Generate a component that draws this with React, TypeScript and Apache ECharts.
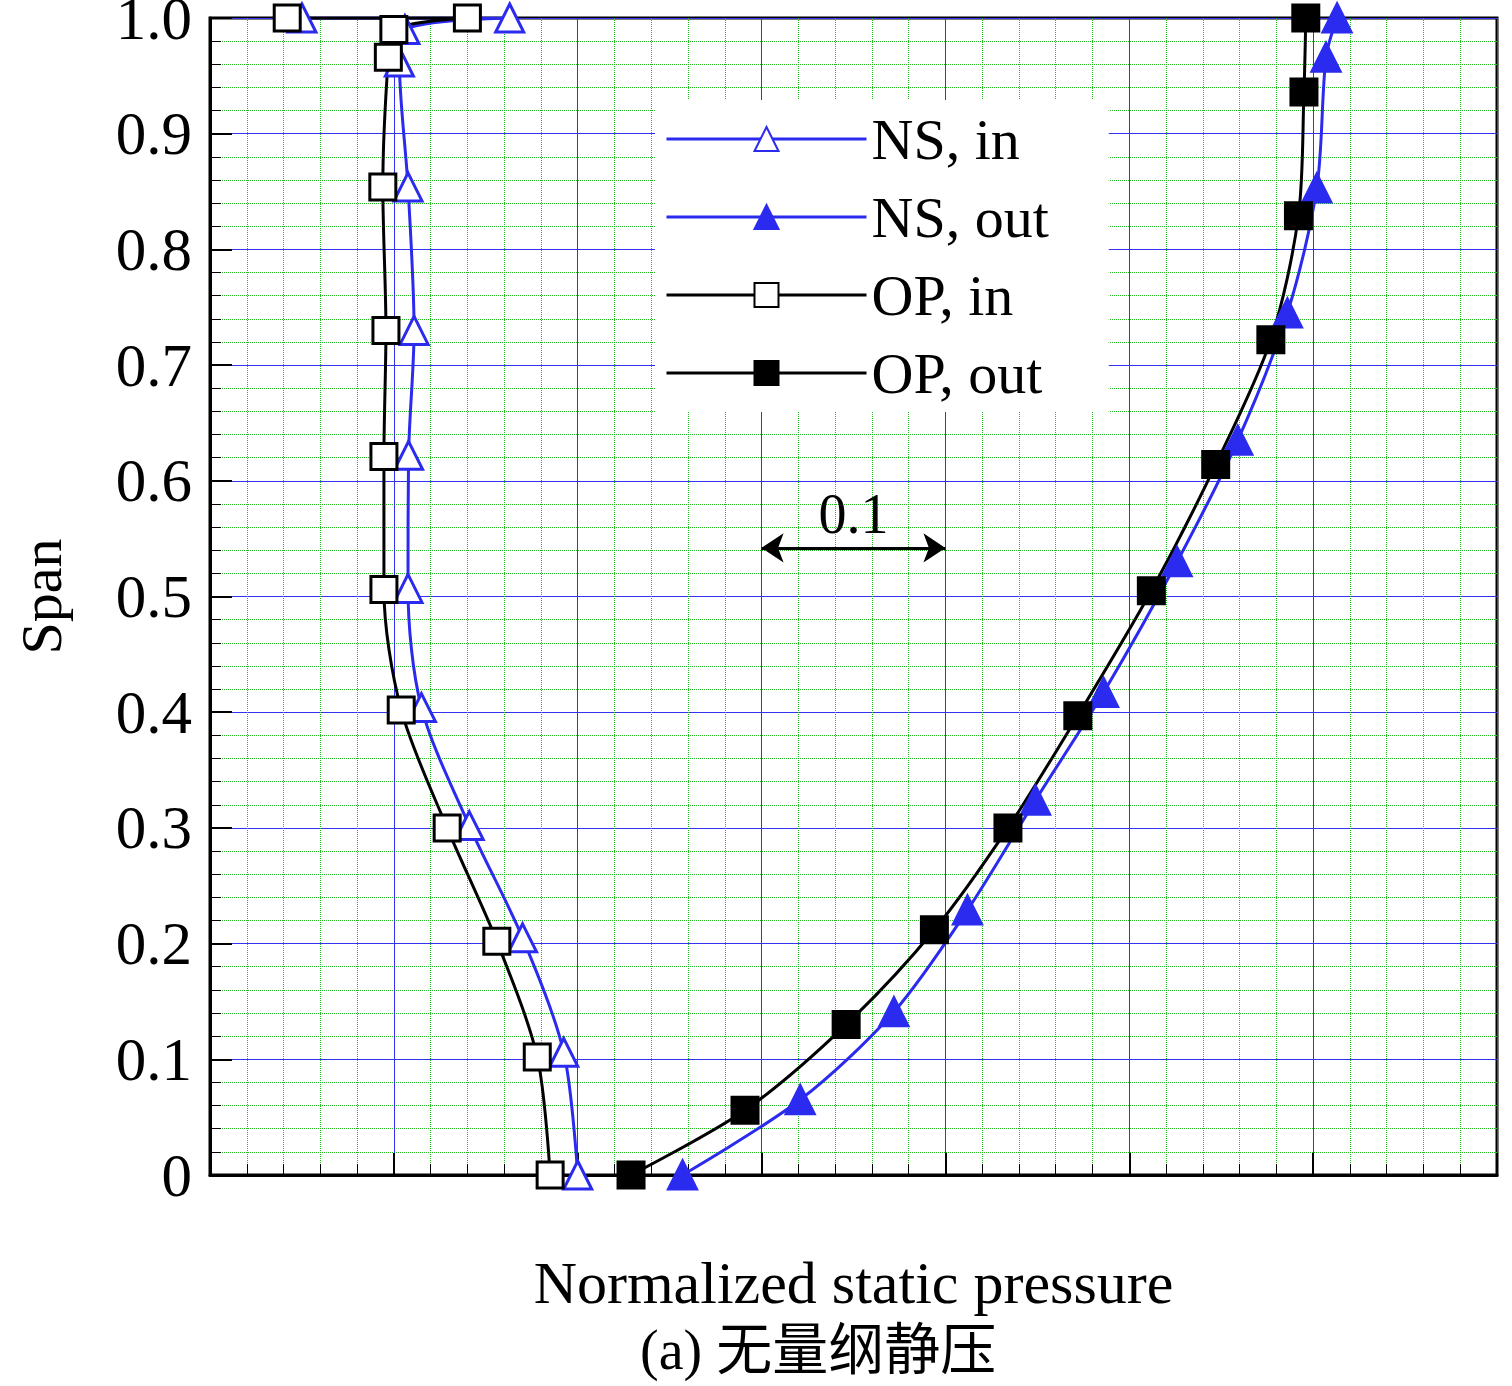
import React, { useRef, useEffect } from 'react';
import * as echarts from 'echarts';

// [normalized static pressure, span]
const nsIn = [
  [0.05, 1.0], [0.163, 1.0], [0.106, 0.99], [0.103, 0.962], [0.1077, 0.854], [0.111, 0.73],
  [0.108, 0.622], [0.1077, 0.507], [0.115, 0.404], [0.141, 0.302], [0.17, 0.205],
  [0.1924, 0.106], [0.2, 0.0],
];
const nsOut = [
  [0.257, 0.0], [0.321, 0.065], [0.372, 0.141], [0.412, 0.229], [0.449, 0.324],
  [0.486, 0.417], [0.526, 0.53], [0.559, 0.635], [0.586, 0.745], [0.602, 0.853],
  [0.607, 0.966], [0.613, 1.0],
];
const opIn = [
  [0.042, 1.0], [0.14, 1.0], [0.1, 0.99], [0.097, 0.966], [0.094, 0.854], [0.0957, 0.73],
  [0.0946, 0.621], [0.0946, 0.506], [0.104, 0.402], [0.129, 0.3], [0.156, 0.202],
  [0.178, 0.102], [0.185, 0.0],
];
const opOut = [
  [0.229, 0.0], [0.291, 0.056], [0.346, 0.13], [0.394, 0.212], [0.434, 0.3],
  [0.472, 0.397], [0.512, 0.505], [0.547, 0.614], [0.577, 0.722], [0.592, 0.829],
  [0.595, 0.936], [0.596, 1.0],
];
const scaleBar = [[0.3, 0.542], [0.4, 0.542]];

const FONT = 'Liberation Serif, Noto Sans CJK SC, serif';
const BLUE = '#2b2bf0';

const App = () => {
  const ref = useRef<HTMLDivElement>(null);
  useEffect(() => {
    const chart = echarts.init(ref.current, null, { renderer: 'svg' });
    const mk = (name: string, data: number[][], color: string, symbol: string, fill: string) => ({
      name,
      type: 'line',
      data,
      smooth: 0.3,
      symbol,
      symbolSize: symbol === 'rect' ? 26 : 28,
      lineStyle: { color, width: 3 },
      itemStyle: { color: fill, borderColor: color, borderWidth: 3 },
    });
    chart.setOption({
      animation: false,
      grid: {
        left: 210, right: 15, top: 18, bottom: 211, outerBoundsMode: 'none', containLabel: false,
        show: true, borderColor: '#000', borderWidth: 3,
      },
      legend: {
        orient: 'vertical',
        left: 655,
        top: 100,
        backgroundColor: '#fff',
        padding: [10, 60, 10, 10],
        itemWidth: 200,
        itemHeight: 30,
        itemGap: 20,
        lineStyle: { width: 3 },
        textStyle: { fontFamily: FONT, fontSize: 58, color: '#000' },
        data: ['NS, in', 'NS, out', 'OP, in', 'OP, out'],
      },
      xAxis: {
        type: 'value', min: 0, max: 0.7, interval: 0.1,
        name: 'Normalized static pressure', nameLocation: 'middle', nameGap: 78,
        nameTextStyle: { fontFamily: FONT, fontSize: 60, color: '#000' },
        axisLabel: { show: false },
        axisLine: { lineStyle: { color: '#000', width: 3 } },
        axisTick: { inside: true, length: 22, lineStyle: { color: '#000', width: 2 } },
        minorTick: { show: true, splitNumber: 5, length: 11, lineStyle: { color: '#000' } },
        splitLine: { lineStyle: { color: '#3333ee', width: 1 } },
        minorSplitLine: { show: true, lineStyle: { color: '#22bb22', type: 'dotted', width: 1 } },
      },
      yAxis: {
        type: 'value', min: 0, max: 1, interval: 0.1,
        name: 'Span', nameLocation: 'middle', nameGap: 140,
        nameTextStyle: { fontFamily: FONT, fontSize: 58, color: '#000' },
        axisLabel: {
          fontFamily: FONT, fontSize: 61, color: '#000', margin: 18,
          formatter: (v: number) => (v === 0 ? '0' : v.toFixed(1)),
        },
        axisLine: { lineStyle: { color: '#000', width: 3 } },
        axisTick: { inside: true, length: 22, lineStyle: { color: '#000', width: 2 } },
        minorTick: { show: true, splitNumber: 5, length: 11, lineStyle: { color: '#000' } },
        splitLine: { lineStyle: { color: '#3333ee', width: 1 } },
        minorSplitLine: { show: true, lineStyle: { color: '#22bb22', type: 'dotted', width: 1 } },
      },
      graphic: [
        {
          type: 'text', left: 640, top: 1322,
          style: { text: '(a) 无量纲静压', font: `56px ${FONT}`, fill: '#000' },
        },
      ],
      series: [
        mk('NS, in', nsIn, BLUE, 'triangle', '#fff'),
        mk('NS, out', nsOut, BLUE, 'triangle', BLUE),
        mk('OP, in', opIn, '#000', 'rect', '#fff'),
        mk('OP, out', opOut, '#000', 'rect', '#000'),
        {
          type: 'line', data: scaleBar, symbol: 'none', lineStyle: { width: 0 },
          silent: true, legendHoverLink: false,
          markLine: {
            symbol: ['arrow', 'arrow'], symbolSize: 22, silent: true,
            lineStyle: { color: '#000', width: 3, type: 'solid' },
            label: { formatter: '0.1', position: 'middle', fontFamily: FONT, fontSize: 56, color: '#000', distance: 6 },
            data: [[{ coord: scaleBar[0] }, { coord: scaleBar[1] }]],
          },
        },
      ],
    });
    return () => chart.dispose();
  }, []);
  return <div ref={ref} style={{ position: 'fixed', left: 0, top: 0, width: 1512, height: 1386 }} />;
};

export default App;
